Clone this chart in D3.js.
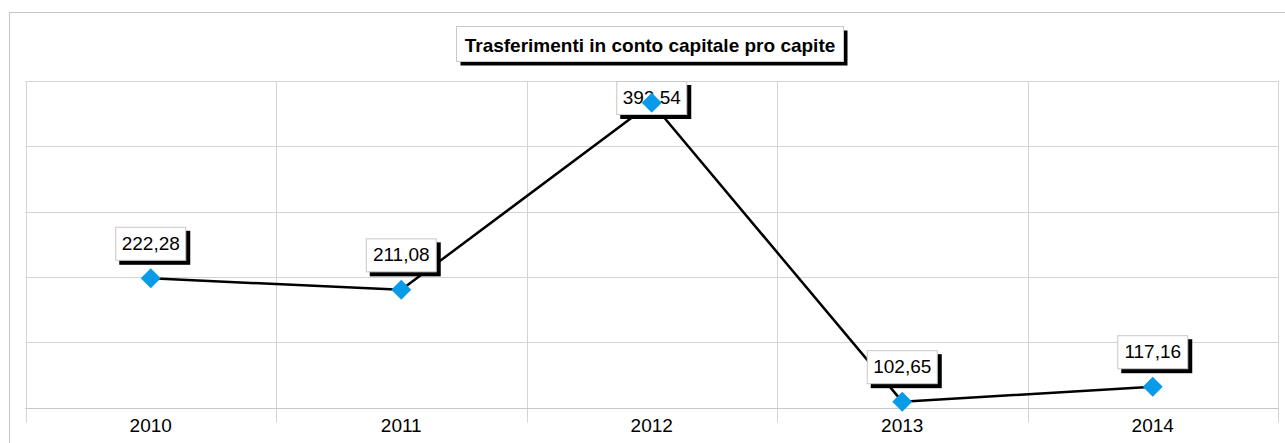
<!DOCTYPE html>
<html>
<head>
<meta charset="utf-8">
<script src="https://cdn.jsdelivr.net/npm/d3@7/dist/d3.min.js"></script>
<style>
  html, body { margin: 0; padding: 0; background: #fff; }
  svg { display: block; }
</style>
</head>
<body>
<svg id="chart" width="1285" height="443"></svg>
<script>
const title = "Trasferimenti in conto capitale pro capite";
const categories = ["2010", "2011", "2012", "2013", "2014"];
const values = [222.28, 211.08, 392.54, 102.65, 117.16];
const valueLabels = ["222,28", "211,08", "392,54", "102,65", "117,16"];
const yDomain = [97, 413.6];
const gridCount = 5;

(function () {
const svg = d3.select("#chart");
const pL = 25.5, pR = 1278, pT = 81, pB = 407.5;
const font = "Arial, 'Liberation Sans', sans-serif";

// outer border
svg.append("rect").attr("x", 9.5).attr("y", 12.5).attr("width", 1300).attr("height", 460)
  .attr("fill", "#fff").attr("stroke", "#c4c4c4").attr("stroke-width", 1);

const x = d3.scaleBand().domain(categories).range([pL, pR]).paddingInner(0).paddingOuter(0);
const y = d3.scaleLinear().domain(yDomain).range([pB, pT]);

// horizontal grid
const gridVals = d3.range(gridCount + 1).map(i => yDomain[0] + (yDomain[1] - yDomain[0]) * i / gridCount);
svg.append("g").selectAll("line").data(gridVals).join("line")
  .attr("x1", pL).attr("x2", pR)
  .attr("y1", d => Math.round(y(d)) + 0.5).attr("y2", d => Math.round(y(d)) + 0.5)
  .attr("stroke", "#d4d4d4").attr("stroke-width", 1);

// vertical grid / category separators
const seps = categories.map(c => x(c)).concat([pR]);
svg.append("g").selectAll("line").data(seps).join("line")
  .attr("x1", d => Math.round(d) + 0.5).attr("x2", d => Math.round(d) + 0.5)
  .attr("y1", pT).attr("y2", pB + 15)
  .attr("stroke", "#d4d4d4").attr("stroke-width", 1);

// x axis line
svg.append("line").attr("x1", pL).attr("x2", pR)
  .attr("y1", Math.round(pB) + 0.5).attr("y2", Math.round(pB) + 0.5)
  .attr("stroke", "#c8c8c8").attr("stroke-width", 1);

// x labels
const xAxis = d3.axisBottom(x).tickSize(0).tickPadding(0);
const gx = svg.append("g").attr("transform", `translate(0,${pB})`).call(xAxis);
gx.select(".domain").remove();
gx.selectAll("text").attr("y", 24).attr("dy", null)
  .style("font-family", font).style("font-size", "19px").attr("fill", "#000");

// line
const cx = c => x(c) + x.bandwidth() / 2;
const line = d3.line().x((d, i) => cx(categories[i])).y(d => y(d));
svg.append("path").datum(values).attr("d", line)
  .attr("fill", "none").attr("stroke", "#000").attr("stroke-width", 2.5).attr("stroke-linejoin", "round");

// value labels
const bw = 71, bh = 34, gap = 17.5;
const lg = svg.append("g");
values.forEach((v, i) => {
  const px = cx(categories[i]), py = y(v);
  let by = py - gap - bh;
  if (by < pT) by = pT;
  const bx = px - bw / 2;
  lg.append("rect").attr("x", bx + 4).attr("y", by + 4).attr("width", bw).attr("height", bh).attr("fill", "#000");
  lg.append("rect").attr("x", bx + 0.5).attr("y", by + 0.5).attr("width", bw - 1).attr("height", bh - 1)
    .attr("fill", "#fff").attr("stroke", "#c8c8c8").attr("stroke-width", 1);
  lg.append("text").attr("x", px).attr("y", by + bh - 11).attr("text-anchor", "middle")
    .style("font-family", font).style("font-size", "19px").attr("fill", "#000").text(valueLabels[i]);
});

// markers
const r = 10;
svg.append("g").selectAll("path").data(values).join("path")
  .attr("d", (d, i) => {
    const px = cx(categories[i]), py = y(d);
    return `M${px},${py - r}L${px + r},${py}L${px},${py + r}L${px - r},${py}Z`;
  })
  .attr("fill", "#0a9be8");

// title
const tb = { x: 456.5, y: 26.5, w: 387, h: 35 };
svg.append("rect").attr("x", tb.x + 4).attr("y", tb.y + 4).attr("width", tb.w).attr("height", tb.h).attr("fill", "#000");
svg.append("rect").attr("x", tb.x).attr("y", tb.y).attr("width", tb.w).attr("height", tb.h)
  .attr("fill", "#fff").attr("stroke", "#c8c8c8").attr("stroke-width", 1);
svg.append("text").attr("x", tb.x + tb.w / 2).attr("y", 51.5).attr("text-anchor", "middle")
  .style("font-family", font).style("font-size", "19px").style("font-weight", "bold").attr("fill", "#000").text(title);
})();
</script>
</body>
</html>
